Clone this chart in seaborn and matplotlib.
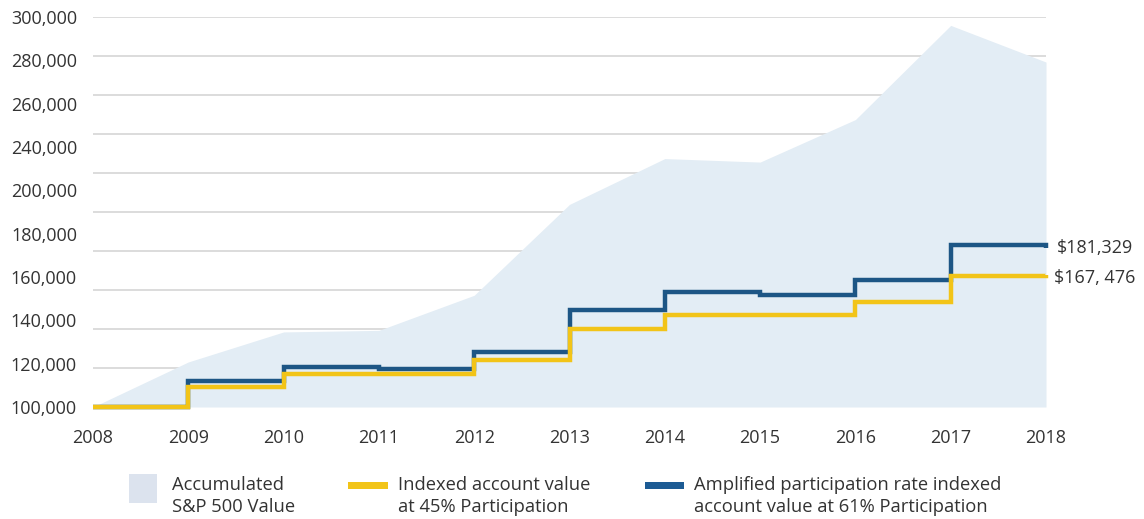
import matplotlib
matplotlib.use("Agg")
import matplotlib.pyplot as plt
from matplotlib.patches import Rectangle
import numpy as np
import pandas as pd
import seaborn as sns

# values
years = list(range(2008, 2019))
sp500_value = [100000, 123100, 138500, 139300, 157300, 203900, 227400, 225600, 247400, 295700, 276900]
indexed_45 = [100000, 110300, 116800, 116800, 123900, 140200, 147400, 147400, 153800, 167400, 167476]
amplified_61 = [100000, 113300, 120500, 119300, 128000, 149900, 159000, 157400, 165000, 182900, 181329]

grid_levels = list(range(100000, 300001, 20000))
# the original chart skips 220,000 and spreads the labels evenly
ytick_labels = ["100,000", "120,000", "140,000", "160,000", "180,000",
                "200,000", "240,000", "260,000", "280,000", "300,000"]
end_labels = {"amplified": "$181,329", "indexed": "$167, 476"}

legend_items = [
    ("area", "Accumulated\nS&P 500 Value"),
    ("yellow", "Indexed account value\nat 45% Participation"),
    ("blue", "Amplified participation rate indexed\naccount value at 61% Participation"),
]

AREA = "#e3edf5"
AREA_LEG = "#dce3ee"
YELLOW = "#f2c418"
BLUE = "#1d5685"
BLUE_LEG = "#1c5b94"
GRID = "#d9d9d9"
TEXT = "#333333"

sns.set_style("white")
plt.rcParams["font.family"] = ["Open Sans", "DejaVu Sans"]

W, H = 1144, 519
fig = plt.figure(figsize=(W / 100, H / 100), dpi=100)
ax = fig.add_axes([93 / W, 1 - 407 / H, (1046 - 93) / W, (407 - 17) / H])

df = pd.DataFrame({"year": years, "sp500": sp500_value,
                   "indexed": indexed_45, "amplified": amplified_61})

ax.hlines(grid_levels, years[0], years[-1], color=GRID, lw=1.3, zorder=0)
ax.fill_between(df["year"], grid_levels[0], df["sp500"], color=AREA, lw=0, zorder=1)

sns.lineplot(data=df, x="year", y="amplified", ax=ax, color=BLUE, lw=3.2,
             drawstyle="steps-post", zorder=3, legend=False)
sns.lineplot(data=df, x="year", y="indexed", ax=ax, color=YELLOW, lw=3.2,
             drawstyle="steps-post", zorder=4, legend=False)
for ln in ax.lines:
    ln.set_clip_on(False)
    ln.set_solid_joinstyle("miter")
    ln.set_solid_capstyle("butt")

ax.set_xlim(years[0], years[-1])
ax.set_ylim(grid_levels[0], grid_levels[-1])
ax.set_xticks(years)
ax.set_xticklabels([str(y) for y in years])
ax.set_yticks(np.linspace(grid_levels[0], grid_levels[-1], len(ytick_labels)))
ax.set_yticklabels(ytick_labels)
ax.tick_params(axis="y", length=0, pad=11.5, labelsize=13, labelcolor=TEXT)
ax.tick_params(axis="x", length=0, pad=16, labelsize=13, labelcolor=TEXT)
ax.set_xlabel("")
ax.set_ylabel("")
for s in ax.spines.values():
    s.set_visible(False)

ax.annotate(end_labels["amplified"], xy=(years[-1], amplified_61[-1]), xytext=(8, 0),
            textcoords="offset points", va="center", ha="left", fontsize=13, color=TEXT)
ax.annotate(end_labels["indexed"], xy=(years[-1], indexed_45[-1]), xytext=(6, -2),
            textcoords="offset points", va="center", ha="left", fontsize=13, color=TEXT)

# legend row under the plot, drawn in figure pixels
def fx(px):
    return px / W

def fy(py):
    return 1 - py / H

fig.add_artist(Rectangle((fx(129), fy(503)), 28 / W, 29 / H, color=AREA_LEG,
                         transform=fig.transFigure, lw=0))
fig.add_artist(Rectangle((fx(348), fy(488.5)), 40 / W, 7 / H, color=YELLOW,
                         transform=fig.transFigure, lw=0))
fig.add_artist(Rectangle((fx(645), fy(488.5)), 39 / W, 7 / H, color=BLUE_LEG,
                         transform=fig.transFigure, lw=0))
text_x = [172, 398, 694]
for (kind, label), tx in zip(legend_items, text_x):
    fig.text(fx(tx), fy(496), label, ha="left", va="center", fontsize=13.2,
             color=TEXT, linespacing=1.28)

fig.savefig("out.png", dpi=100)
